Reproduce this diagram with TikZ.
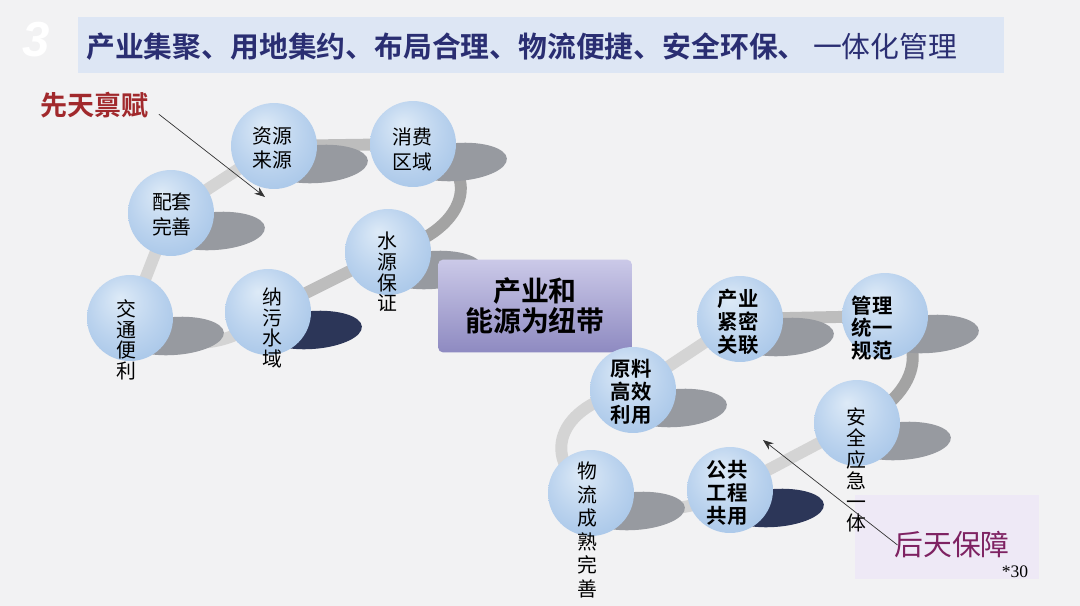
\documentclass[tikz,border=0pt]{standalone}
\usepackage{fontspec}
\setmainfont{Noto Sans CJK SC}[BoldFont={Noto Sans CJK SC Bold}]
\newfontfamily\latinserif{Liberation Serif}
\newfontfamily\latinsans{Liberation Sans}
\usetikzlibrary{calc,arrows.meta}
\definecolor{bgray}{HTML}{F2F2F3}
\definecolor{barblue}{HTML}{DDE6F4}
\definecolor{navyt}{HTML}{2A2E72}
\definecolor{brick}{HTML}{A1292C}
\definecolor{plum}{HTML}{7E2262}
\definecolor{lav}{HTML}{EEE9F6}
\definecolor{boxtop}{HTML}{CBC9E8}
\definecolor{boxbot}{HTML}{8E8AC1}
\definecolor{qiuhi}{HTML}{DDEAF7}
\definecolor{qiumid}{HTML}{BBD3EE}
\definecolor{qiulo}{HTML}{A0C1E6}
\definecolor{qiuedge}{HTML}{8AB0DC}
\definecolor{shd}{HTML}{979AA0}
\definecolor{shdedge}{HTML}{D8DADC}
\definecolor{shdnavy}{HTML}{2C3658}
\definecolor{ringlt}{HTML}{D4D4D4}
\definecolor{ringmd}{HTML}{BDBDBD}
\definecolor{ringdk}{HTML}{A3A3A3}
\pgfdeclareradialshading{qiu}{\pgfpoint{-6bp}{12bp}}{color(0bp)=(qiuhi);color(20bp)=(qiumid);color(38bp)=(qiulo);color(50bp)=(qiuedge)}
\pgfdeclareradialshading{ying}{\pgfpoint{-6bp}{0bp}}{color(0bp)=(shd);color(28bp)=(shd);color(50bp)=(shdedge)}
\pgfdeclareradialshading{yinglan}{\pgfpoint{-6bp}{0bp}}{color(0bp)=(shdnavy);color(28bp)=(shdnavy);color(50bp)=(shdnavy!45!white)}
\newcommand{\ying}[2][ying]{\path[shading=#1] ($(#2)+(44,18)$) ellipse [x radius=1cm, y radius=0.38cm, rotate=4];}
\tikzset{qiu/.style={circle,minimum size=1.72cm,inner sep=0pt,shading=qiu},
  zi/.style={align=center,inner sep=0pt,font=\fontsize{11.3}{14.2}\selectfont},
  shu/.style={align=center,inner sep=0pt,font=\fontsize{11.3}{11.8}\selectfont},
  cu/.style={align=center,inner sep=0pt,font=\fontsize{11.6}{13}\selectfont\bfseries},
  huanlt/.style={line width=6.8pt,ringlt,line cap=round},
  huanmd/.style={huanlt,ringmd},
  huandk/.style={huanlt,ringdk},
  jiantou/.style={thin,black!80,-{Stealth[length=6pt,width=4.5pt]}}}

\begin{document}
\begin{tikzpicture}[x=0.02cm,y=-0.02cm]
\fill[bgray] (0,0) rectangle (1080,606);
\useasboundingbox (0,0) rectangle (1080,606);
\node[white,font=\latinsans\fontsize{28}{28}\selectfont\bfseries\itshape] (hao) at (36,40) {3};
\node[fill=barblue,minimum width=18.52cm,minimum height=1.12cm,inner sep=0pt] (tiao) at (541,45) {};
\node[anchor=west,text=navyt,inner sep=0pt,font=\fontsize{16.4}{16.4}\selectfont] (biaoti) at (86,47) {\textbf{产业集聚、用地集约、布局合理、物流便捷、安全环保、} 一体化管理};
\node[anchor=west,text=brick,inner sep=0pt,font=\fontsize{15.4}{15.4}\selectfont\bfseries] (xiantian) at (40,105) {先天禀赋};
\coordinate (ziyuan) at (274,146); \coordinate (xiaofei) at (413,144); \coordinate (peitao) at (171,213);
\coordinate (shuiyuan) at (388,252); \coordinate (jiaotong) at (130,318); \coordinate (nawu) at (268,312);
\coordinate (yuanliao) at (633,390); \coordinate (chanye) at (740,319); \coordinate (guanli) at (885,316);
\coordinate (anquan) at (857,423); \coordinate (wuliu) at (591,493); \coordinate (gonggong) at (730,490);
\draw[huanlt] (jiaotong) -- (peitao) -- (ziyuan);
\draw[huanmd] (ziyuan) -- (xiaofei);
\draw[huandk] (xiaofei) .. controls (485,160) and (475,230) .. (shuiyuan);
\draw[huanmd] (shuiyuan) -- (nawu);
\draw[huanlt] (nawu) .. controls (230,352) and (170,352) .. (jiaotong);
\draw[huanlt] (wuliu) .. controls (540,460) and (555,405) .. (yuanliao) -- (chanye);
\draw[huanmd] (chanye) -- (guanli);
\draw[huandk] (guanli) .. controls (930,340) and (920,395) .. (anquan);
\draw[huanlt] (anquan) -- (gonggong) .. controls (690,515) and (630,515) .. (wuliu);
\ying{ziyuan} \ying{xiaofei} \ying{peitao} \ying{shuiyuan} \ying{jiaotong} \ying[yinglan]{nawu}
\ying{yuanliao} \ying{chanye} \ying{guanli} \ying{anquan} \ying{wuliu} \ying[yinglan]{gonggong}
\node[top color=boxtop,bottom color=boxbot,minimum width=3.88cm,minimum height=1.86cm,rounded corners=3pt,align=center,
  font=\fontsize{15.9}{17}\selectfont\bfseries] (niudai) at (535,306) {产业和\\能源为纽带};
\node[fill=lav,minimum width=3.7cm,minimum height=1.7cm,inner sep=0pt] (houtiankuang) at (947,537) {};
\node[qiu] (ziyuanq) at (ziyuan) {}; \node[qiu] (xiaofeiq) at (xiaofei) {}; \node[qiu] (peitaoq) at (peitao) {};
\node[qiu] (shuiyuanq) at (shuiyuan) {}; \node[qiu] (jiaotongq) at (jiaotong) {}; \node[qiu] (nawuq) at (nawu) {};
\node[qiu] (yuanliaoq) at (yuanliao) {}; \node[qiu] (chanyeq) at (chanye) {}; \node[qiu] (guanliq) at (guanli) {};
\node[qiu] (anquanq) at (anquan) {}; \node[qiu] (wuliuq) at (wuliu) {}; \node[qiu] (gonggongq) at (gonggong) {};
\node[zi] (ziyuant) at (272,148) {资源\\来源};
\node[zi] (xiaofeit) at (412,149) {消费\\区域};
\node[zi] (peitaot) at (172,214) {配套\\完善};
\node[shu] (shuiyuant) at (387,272) {水\\源\\保\\证};
\node[shu] (jiaotongt) at (126,340) {交\\通\\便\\利};
\node[shu] (nawut) at (272,328) {纳\\污\\水\\域};
\node[cu] (chanyet) at (738,322) {产业\\紧密\\关联};
\node[cu] (yuanliaot) at (631,392) {原料\\高效\\利用};
\node[cu] (guanlit) at (872,328) {管理\\统一\\规范};
\node[cu] (gonggongt) at (727,493) {公共\\工程\\共用};
\node[shu,font=\fontsize{11.3}{12}\selectfont] (anquant) at (856,470) {安\\全\\应\\急\\一\\体};
\node[shu,font=\fontsize{11.3}{13.4}\selectfont] (wuliut) at (587,530) {物\\流\\成\\熟\\完\\善};
\node[text=plum,inner sep=0pt,font=\fontsize{16.4}{16.4}\selectfont] (houtian) at (952,545) {后天保障};
\node[inner sep=0pt,font=\latinserif\fontsize{10}{10}\selectfont] (yeshu) at (1015,572) {*30};
\coordinate (jian1) at (265,197); \coordinate (jian2) at (763,440);
\draw[jiantou] ([shift={(10,-4)}]xiantian.south east) -- (jian1);
\draw[jiantou] ([xshift=2]houtian.west) -- (jian2);
\end{tikzpicture}
\end{document}
